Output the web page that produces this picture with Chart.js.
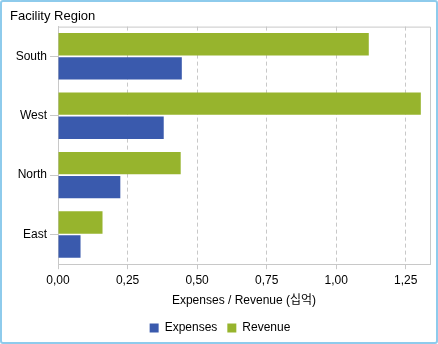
<!DOCTYPE html>
<html>
<head>
<meta charset="utf-8">
<script src="https://cdn.jsdelivr.net/npm/chart.js@4"></script>
<style>
html,body{margin:0;padding:0;background:#fff;}
#frame{position:absolute;left:0;top:0;width:434px;height:340px;border:2px solid #8ecbec;border-radius:3px;}
#chart{position:absolute;left:0;top:0;}
</style>
</head>
<body>
<div id="frame"></div>
<canvas id="chart" width="438" height="344"></canvas>
<script>
// facility region chart

const categories = ["South", "West", "North", "East"];
const expenses = [0.445, 0.38, 0.224, 0.081];
const revenue = [1.117, 1.304, 0.441, 0.16];
const xTicks = [0, 0.25, 0.5, 0.75, 1.0, 1.25];

const FONT = "'Liberation Sans', 'Noto Sans CJK KR', sans-serif";
const GRID = "#c8c8c8";

/* plot frame (top + right edges) */
const frameLines = {
  id: "frameLines",
  afterDatasetsDraw(chart){
    const a = chart.chartArea;
    const ctx = chart.ctx;
    ctx.save();
    ctx.strokeStyle = GRID;
    ctx.lineWidth = 1;
    ctx.beginPath();
    ctx.moveTo(a.left, a.top + 0.5);
    ctx.lineTo(a.right + 0.5, a.top + 0.5);
    ctx.lineTo(a.right + 0.5, a.bottom);
    ctx.stroke();
    ctx.restore();
  }
};

new Chart(document.getElementById("chart"), {
  type: "bar",
  data: {
    labels: categories,
    datasets: [
      { label: "Revenue", data: revenue, backgroundColor: "#97b42d" },
      { label: "Expenses", data: expenses, backgroundColor: "#3a5aad" }
    ]
  },
  options: {
    indexAxis: "y",
    responsive: false,
    animation: false,
    categoryPercentage: 0.81,
    barPercentage: 0.93,
    layout: { padding: { left: 10, right: 8, top: 4, bottom: 0 } },
    plugins: {
      title: {
        display: true,
        text: "Facility Region",
        align: "start",
        color: "#000",
        font: { family: FONT, size: 13, weight: "normal" },
        padding: { top: 5, bottom: 2 }
      },
      legend: {
        position: "bottom",
        labels: {
          color: "#000",
          font: { family: FONT, size: 12 },
          boxWidth: 9,
          boxHeight: 9,
          padding: 10,
          sort: (a, b) => b.datasetIndex - a.datasetIndex
        }
      },
      tooltip: { enabled: false }
    },
    scales: {
      x: {
        min: 0,
        max: 1.337,
        afterBuildTicks: axis => { axis.ticks = xTicks.map(v => ({ value: v })); },
        ticks: {
          color: "#000",
          font: { family: FONT, size: 12 },
          padding: 4,
          callback: v => v.toFixed(2).replace(".", ",")
        },
        grid: { color: GRID, tickColor: GRID, tickLength: 5 },
        border: { color: GRID, dash: [4, 3] },
        title: {
          display: true,
          text: "Expenses / Revenue (십억)",
          color: "#000",
          font: { family: FONT, size: 12 },
          padding: { top: 2, bottom: 4 }
        }
      },
      y: {
        afterFit: axis => { axis.width = 48; },
        ticks: {
          color: "#000",
          font: { family: FONT, size: 12 },
          padding: 3
        },
        grid: { drawOnChartArea: false, offset: false, tickColor: GRID, tickLength: 8 },
        border: { color: GRID }
      }
    }
  },
  plugins: [frameLines]
});
</script>
</body>
</html>
